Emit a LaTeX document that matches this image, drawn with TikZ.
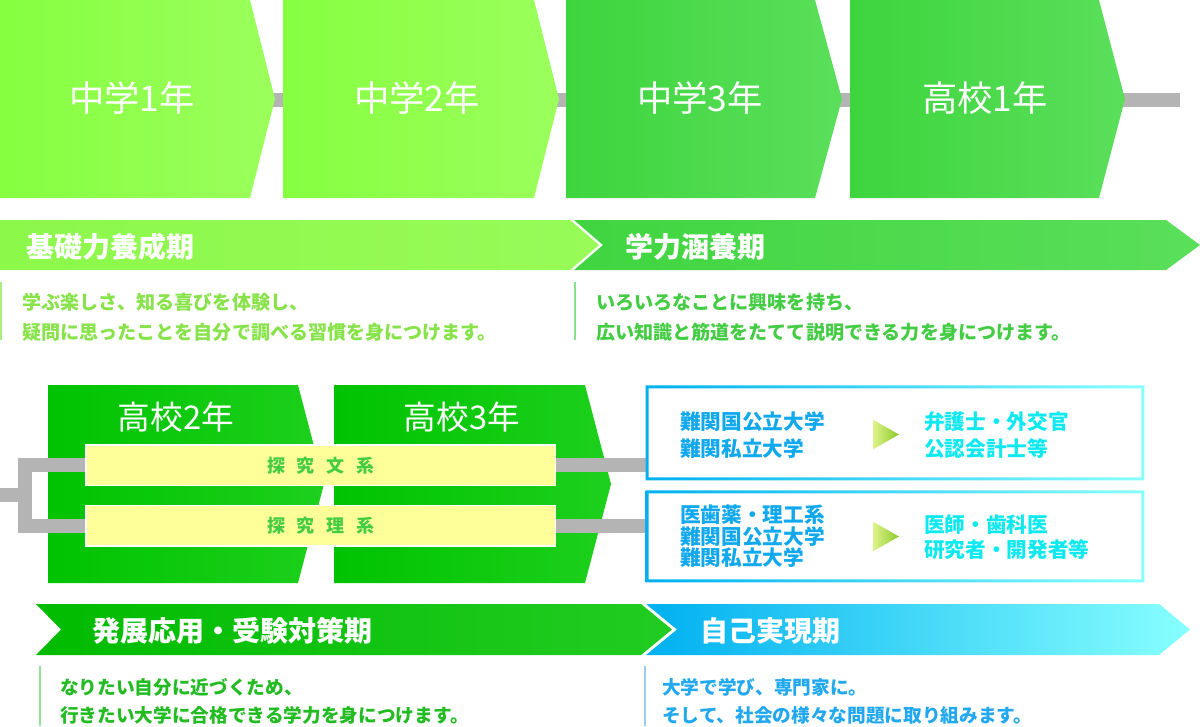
\documentclass[tikz,border=0pt]{standalone}
\usepackage{fontspec}
\usepackage{tikz}
\newfontfamily\jp{Noto Sans CJK JP}
\definecolor{yrlightL}{HTML}{86FF40}
\definecolor{yrlightR}{HTML}{9BFF5C}
\definecolor{yrmidL}{HTML}{3DD53D}
\definecolor{yrmidR}{HTML}{5BDF5B}
\definecolor{yrdarkL}{HTML}{00C300}
\definecolor{yrdarkR}{HTML}{1DD01D}
\definecolor{bandA}{HTML}{8CF84A}
\definecolor{bandAR}{HTML}{98FB58}
\definecolor{bandBL}{HTML}{40D540}
\definecolor{bandBR}{HTML}{5ADF5A}
\definecolor{bandCL}{HTML}{00BB00}
\definecolor{bandCR}{HTML}{22CC22}
\definecolor{bandDL}{HTML}{00B0F0}
\definecolor{bandDR}{HTML}{88FFFF}
\definecolor{txtA}{HTML}{88E24A}
\definecolor{txtB}{HTML}{44CC44}
\definecolor{txtC}{HTML}{22BB22}
\definecolor{txtD}{HTML}{22A8EE}
\definecolor{ruleA}{HTML}{A8EE80}
\definecolor{ruleB}{HTML}{88E088}
\definecolor{ruleC}{HTML}{99DD99}
\definecolor{ruleD}{HTML}{99CCEE}
\definecolor{barg}{HTML}{B4B4B4}
\definecolor{course}{HTML}{FFFF99}
\definecolor{univL}{HTML}{11A8EE}
\definecolor{univR}{HTML}{10E8F0}
\definecolor{triL}{HTML}{DCF288}
\definecolor{triR}{HTML}{8CCB2A}
\usetikzlibrary{calc,positioning,backgrounds}
\tikzset{%
  year/.style={font=\jp\fontsize{26.5}{26}\selectfont, text=white, inner sep=0},% year label in a box
  yearlow/.style={year, font=\jp\fontsize{24.5}{24}\selectfont},
  band/.style={font=\jp\bfseries\fontsize{21}{21}\selectfont, text=white, anchor=west, inner sep=0},% period name
  desc/.style={font=\jp\bfseries\fontsize{14.3}{22.5}\selectfont, anchor=west, align=left, inner sep=0},
  descl/.style={desc, font=\jp\bfseries\fontsize{14}{21}\selectfont},
  grayline/.style={draw=barg, line width=10.5pt, line join=miter},
  coursebar/.style={draw=white, line width=1pt, fill=course, minimum width=469.6*0.75pt,
    minimum height=40.5*0.75pt, inner sep=0, text=txtB, font=\jp\bfseries\fontsize{13.5}{14}\selectfont},
  goalbox/.style={rectangle, minimum width=498*0.75pt, inner sep=0},
  univ/.style={font=\jp\bfseries\fontsize{15.5}{19.7}\selectfont, anchor=west, align=left, inner sep=0},
}
\newcommand*{\gap}{\kern.65em}

\begin{document}
\begin{tikzpicture}[x=0.75pt, y=-0.75pt]
\useasboundingbox (0,0) rectangle (1200,726);

% time line
\coordinate (tlstart) at (250,100);
\coordinate (tlend) at (1180,100);
\draw[grayline] (tlstart) -- (tlend);

\shade[left color=yrlightL, right color=yrlightR] (0,0) -- (250,0) -- (275,99) -- (250,198) -- (0,198) -- cycle;
\shade[left color=yrlightL, right color=yrlightR] (283,0) -- (534,0) -- (559,99) -- (534,198) -- (283,198) -- cycle;
\shade[left color=yrmidL, right color=yrmidR] (566,0) -- (815,0) -- (842,99) -- (815,198) -- (566,198) -- cycle;
\shade[left color=yrmidL, right color=yrmidR] (850,0) -- (1099,0) -- (1125,99) -- (1099,198) -- (850,198) -- cycle;

\node[year] (j1) at (132,98) {中学1年};
\node[year] (j2) at (417,98) {中学2年};
\node[year] (j3) at (700,98) {中学3年};
\node[year] (h1) at (985,98) {高校1年};

\shade[left color=bandA, right color=bandAR] (0,220) -- (570,220) -- (599,245) -- (570,270) -- (0,270) -- cycle;
\shade[left color=bandBL, right color=bandBR] (574,220) -- (1166,220) -- (1200,245) -- (1166,270) -- (574,270) -- (603,245) -- cycle;
\node[band] (kiso) at (26,247) {基礎力養成期};
\node[band] (kanyo) at (625,247) {学力涵養期};

\draw[ruleA, line width=1.5pt] (1,282) -- (1,340);
\draw[ruleB, line width=1.5pt] (575,282) -- (575,340);
\node[desc, text=txtA] (kisotxt) at (22,317) {学ぶ楽しさ、知る喜びを体験し、\\疑問に思ったことを自分で調べる習慣を身につけます。};
\node[desc, text=txtB] (kanyotxt) at (596,317) {いろいろなことに興味を持ち、\\広い知識と筋道をたてて説明できる力を身につけます。};

% high school 2 and 3
\begin{pgfonlayer}{background}
\shade[left color=yrdarkL, right color=yrdarkR] (48,385) -- (298,385) -- (324,484) -- (298,583) -- (48,583) -- cycle;
\shade[left color=yrdarkL, right color=yrdarkR] (334,385) -- (585,385) -- (611,484) -- (585,583) -- (334,583) -- cycle;
\end{pgfonlayer}
\node[yearlow] (h2) at (176,417) {高校2年};
\node[yearlow] (h3) at (462,417) {高校3年};

\node[coursebar] (bun) at (320.8,465.3) {探\gap 究\gap 文\gap 系};
\node[coursebar] (ri) at (320.8,525.7) {探\gap 究\gap 理\gap 系};

\node[goalbox, minimum height=94.3*0.75pt] (goalA) at (895,432.9) {};
\node[goalbox, minimum height=91.3*0.75pt] (goalB) at (895,536.4) {};

\coordinate (split) at (0,495);
\begin{pgfonlayer}{background}
\draw[grayline] (bun.west) -- ++(-60,0) |- (ri.west);
\draw[grayline] (split) -- (26,495);
\draw[grayline] (bun.east) -- (bun.east -| goalA.west);
\draw[grayline] (ri.east) -- (ri.east -| goalB.west);
\end{pgfonlayer}

\shade[left color=bandDL, right color=bandDR, even odd rule] (goalA.north west) rectangle (goalA.south east)
  ($(goalA.north west)+(3,3)$) rectangle ($(goalA.south east)+(-3,-3)$);
\shade[left color=bandDL, right color=bandDR, even odd rule] (goalB.north west) rectangle (goalB.south east)
  ($(goalB.north west)+(3,3)$) rectangle ($(goalB.south east)+(-3,-3)$);

\node[univ, text=univL] (univA) at (680,435) {難関国公立大学\\難関私立大学};
\node[univ, text=univR] (jobA) at (924,435) {弁護士・外交官\\公認会計士等};
\node[univ, text=univL, font=\jp\bfseries\fontsize{15.5}{16.1}\selectfont] (univB) at (680,536.5) {医歯薬・理工系\\難関国公立大学\\難関私立大学};
\node[univ, text=univR, font=\jp\bfseries\fontsize{15.5}{18.8}\selectfont] (jobB) at (924,537.5) {医師・歯科医\\研究者・開発者等};

\shade[left color=triL, right color=triR] (873.5,420) -- (899,434.5) -- (873.5,449) -- cycle;
\shade[left color=triL, right color=triR] (873.5,522) -- (899,536.5) -- (873.5,551) -- cycle;

% bottom periods
\shade[left color=bandCL, right color=bandCR] (36,604) -- (641,604) -- (672,629.5) -- (641,655) -- (36,655) -- (61,629.5) -- cycle;
\shade[left color=bandDL, right color=bandDR] (646,604) -- (1159,604) -- (1190,629.5) -- (1159,655) -- (646,655) -- (677,629.5) -- cycle;
\node[band] (hatten) at (92,631) {発展応用・受験対策期};
\node[band] (jiko) at (700,631) {自己実現期};

\draw[ruleC, line width=1.5pt] (40,666) -- (40,726);
\draw[ruleD, line width=1.5pt] (645,666) -- (645,726);
\node[descl, text=txtC] (hattentxt) at (60,701) {なりたい自分に近づくため、\\行きたい大学に合格できる学力を身につけます。};
\node[descl, text=txtD] (jikotxt) at (662,701) {大学で学び、専門家に。\\そして、社会の様々な問題に取り組みます。};
\end{tikzpicture}
\end{document}
